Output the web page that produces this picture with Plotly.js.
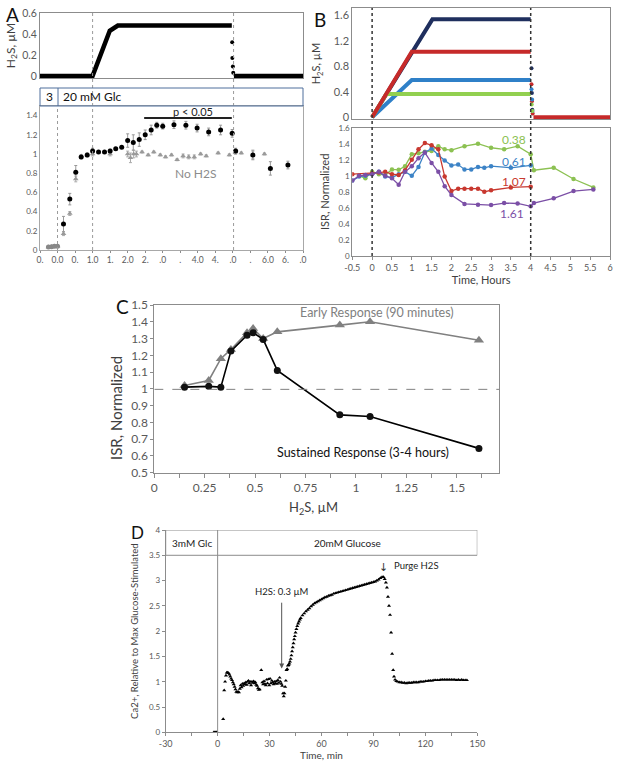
<!DOCTYPE html>
<html><head><meta charset="utf-8">
<script src="https://cdn.plot.ly/plotly-3.0.1.min.js"></script>
<style>html,body{margin:0;padding:0;background:#fff}#chart{width:617px;height:764px}</style>
</head><body><div id="chart"></div>
<script>
// ---------- Panel A (top): H2S trace ----------
const aTopRampT = [-0.5, 1.0, 1.49, 1.72, 4.97];
const aTopRampV = [0, 0, 0.43, 0.48, 0.48];
const aTopDropT = [4.98, 4.985, 5.0, 5.01];
const aTopDropV = [0.32, 0.17, 0.09, 0.03];
const aTopPostT = [5.03, 7.0];
const aTopPostV = [0, 0];
// ---------- Panel A (bottom): ISR ----------
const aTickVals = [-0.5,0,0.5,1,1.5,2,2.5,3,3.5,4,4.5,5,5.5,6,6.5,7];
const aTickText = ['0.','0.0','0.','1.0','1.','2.0','2.','.0','.','4.0','4.','.0','.','6.0','6.','.0'];
const aBlackT = [-0.26,-0.17,-0.09,0.0,0.17,0.35,0.52,0.675,0.846,1.0,1.17,1.34,1.5,1.66,1.83,2.0,2.16,2.33,2.5,2.67,2.83,3.0,3.32,3.66,3.98,4.31,4.65,4.98,5.08,5.57,6.07,6.57];
const aBlackV = [0.03,0.035,0.04,0.04,0.27,0.53,0.81,0.97,0.99,1.03,1.02,1.02,1.03,1.055,1.07,1.14,1.12,1.15,1.2,1.25,1.3,1.29,1.305,1.30,1.27,1.23,1.25,1.215,1.03,0.99,0.85,0.885];
const aBlackErr = [0.01,0.01,0.01,0.01,0.08,0.06,0.07,0.02,0.02,0.03,0.01,0.01,0.02,0.01,0.01,0.07,0.08,0.07,0.05,0.05,0.03,0.03,0.04,0.04,0.04,0.04,0.05,0.04,0.03,0.05,0.07,0.04];
const aGrayT = [-0.26,-0.17,-0.09,0.0,0.17,0.35,0.52,0.675,0.846,1.0,1.5,2.0,2.08,2.17,2.25,2.41,2.585,2.745,2.93,3.08,3.25,3.41,3.58,3.74,3.9,4.08,4.24,4.58,4.9,5.07,5.24,5.57,5.9];
const aGrayV = [0.03,0.035,0.04,0.04,0.17,0.38,0.74,0.98,0.99,1.0,1.0,1.0,0.96,1.0,1.0,1.02,0.99,1.02,0.99,0.97,0.99,0.94,0.98,0.97,0.97,1.0,0.98,1.01,0.99,1.02,1.01,0.99,1.0];
const aGrayErr = [0,0,0,0,0.02,0.02,0.03,0.01,0.01,0.02,0.02,0.03,0.05,0.04,0.03,0.01,0.01,0.01,0.01,0.01,0.01,0.01,0.02,0.02,0.02,0.01,0.01,0.01,0.01,0.02,0.01,0.04,0.01];
const aPBarT = [2.47, 4.97];
const aPBarV = [1.375, 1.375];
// ---------- Panel B (top): H2S profiles ----------
const bNavyT = [0, 1.52, 4.0];   const bNavyV = [0, 1.537, 1.537];
const bRedT = [0, 1.0, 4.0];     const bRedV = [0, 1.03, 1.03];
const bBlueT = [0, 1.0, 4.0];    const bBlueV = [0, 0.585, 0.585];
const bGreenT = [0, 0.36, 4.0];  const bGreenV = [0, 0.366, 0.366];
const bNavyDropT = [4.02,4.03,4.04]; const bNavyDropV = [0.77,0.38,0.12];
const bRedDropT = [4.02,4.03,4.05];  const bRedDropV = [0.52,0.25,0.06];
const bBlueDropT = [4.02,4.035,4.045]; const bBlueDropV = [0.44,0.28,0.1];
const bGreenDropT = [4.025,4.04];    const bGreenDropV = [0.2,0.1];
const bPostT = [4.07, 6.0]; const bPostV = [0, 0];
// ---------- Panel B (bottom): ISR ----------
const bXTickVals = [-0.5,0,0.5,1,1.5,2,2.5,3,3.5,4,4.5,5,5.5,6];
const bXTickText = ['-0.5','0','0.5','1','1.5','2','2.5','3','3.5','4','4.5','5','5.5','6'];
const isrGreenT = [-0.33,-0.17,0,0.17,0.33,0.5,0.67,0.83,1.0,1.17,1.33,1.5,1.67,1.83,2.0,2.33,2.67,3.0,3.33,3.67,4.0,4.08,4.58,5.08,5.58];
const isrGreenV = [1.0,0.97,1.05,1.02,1.01,1.08,1.075,1.12,1.27,1.28,1.3,1.31,1.37,1.33,1.32,1.37,1.4,1.35,1.33,1.37,1.27,1.07,1.10,0.96,0.855];
const isrBlueT = [-0.5,-0.33,-0.17,0,0.17,0.33,0.5,0.67,0.83,1.0,1.17,1.33,1.5,1.67,1.83,2.0,2.17,2.33,2.5,2.67,2.83,3.0,3.5,4.0];
const isrBlueV = [0.94,0.99,1.0,1.02,1.05,0.99,0.98,1.02,1.05,1.0,1.11,1.29,1.34,1.26,1.19,1.13,1.14,1.08,1.08,1.11,1.1,1.12,1.1,1.13];
const isrRedT = [-0.5,0,0.17,0.33,0.5,0.67,0.83,1.0,1.17,1.33,1.5,1.67,1.83,2.0,2.17,2.33,2.5,2.67,2.83,3.0,3.5,4.0];
const isrRedV = [1.02,1.03,1.04,1.05,1.02,1.01,1.07,1.2,1.33,1.41,1.38,1.33,0.99,0.81,0.84,0.84,0.84,0.84,0.8,0.82,0.855,0.865];
const isrPurpleT = [-0.5,-0.33,-0.17,0,0.17,0.33,0.5,0.67,0.83,1.0,1.17,1.33,1.5,1.67,1.83,2.0,2.33,2.67,3.0,3.33,3.67,4.0,4.08,4.58,5.08,5.58];
const isrPurpleV = [0.94,1.0,1.01,1.02,1.05,1.0,0.97,0.89,1.05,1.12,1.22,1.29,1.16,1.05,0.87,0.76,0.65,0.64,0.635,0.66,0.655,0.62,0.66,0.72,0.81,0.83];
// ---------- Panel C ----------
const cH2S = [0.15,0.27,0.33,0.38,0.46,0.49,0.54,0.61,0.92,1.07,1.61];
const cSustained = [1.01,1.015,1.01,1.225,1.32,1.335,1.295,1.11,0.845,0.835,0.645];
const cEarly = [1.02,1.05,1.18,1.235,1.335,1.36,1.30,1.34,1.38,1.40,1.29];
const cXTickVals = [0,0.25,0.5,0.75,1,1.25,1.5];
const cXTickText = ['0','0.25','0.5','0.75','1','1.25','1.5'];
const cXMinorVals = [0.125,0.375,0.625,0.875,1.125,1.375,1.625];
const cYTickVals = [0.5,0.6,0.7,0.8,0.9,1.0,1.1,1.2,1.3,1.4,1.5];
const cYTickText = ['0.5','0.6','0.7','0.8','0.9','1','1.1','1.2','1.3','1.4','1.5'];
// ---------- Panel D ----------
const dXTickVals = [-30,0,30,60,90,120,150];
const dXTickText = ['-30','0','30','60','90','120','150'];
const dXMinorVals = [-15,15,45,75,105,135];
const dYTickVals = [0,0.5,1,1.5,2,2.5,3,3.5,4];
const dYTickText = ['0','0.5','1','1.5','2','2.5','3','3.5','4'];
const dT = [-2.2,-1.7,-1.2,-0.7,-0.3,
 3.2,3.8,4.3,4.8,5.3,5.8,6.3,6.8,7.3,7.8,8.3,8.8,9.3,9.8,10.3,10.8,11.3,11.8,12.3,12.8,13.3,13.8,14.3,14.8,
 15.3,15.8,16.3,16.8,17.3,17.8,18.3,18.8,19.3,19.8,20.3,20.8,21.3,21.8,22.3,22.8,23.3,23.8,24.3,25.2,25.8,
 26.3,26.8,27.3,27.8,28.3,28.8,29.3,29.8,30.3,30.8,31.3,31.8,32.3,32.8,33.3,33.8,34.3,34.8,35.3,35.8,36.3,
 36.8,37.3,37.8,38.2,38.6,39.0,39.4,39.8,40.2,40.6,41.0,41.4,41.8,42.2,42.6,43.0,43.4,43.8,44.2,44.6,45,
 45.5,46,46.5,47,47.5,48,49,50,51,52,53,54,55,56,57,58,59,60,61,62,63,64,65,66,67,68,69,70,71,72,73,74,75,
 76,77,78,79,80,81,82,83,84,85,86,87,88,89,90,91,92,93,94,95,95.8,96.5,97.2,97.8,98.4,99.0,99.6,100.2,
 100.8,101.4,101.9,102.5,103.2,104,105,106,107,108,109,110,111,112,113,114,115,116,117,118,119,120,121,
 122,123,124,125,126,127,128,129,130,131,132,133,134,135,136,137,138,139,140,141,142,143,144];
const dCa = [0,0,0,0,0,
 0.26,0.83,1.0,1.12,1.18,1.18,1.17,1.14,1.1,1.06,1.03,0.99,0.95,0.9,0.85,0.8,0.79,0.8,0.79,0.86,0.93,0.89,0.96,0.92,
 0.97,0.95,0.99,0.94,1.0,1.02,0.97,1.0,0.93,1.0,0.98,1.01,0.97,0.99,0.94,0.92,0.87,0.84,0.85,1.23,0.99,
 0.95,1.01,0.96,0.93,1.04,0.97,1.05,0.93,1.06,0.97,1.02,0.99,0.95,1.0,0.97,1.01,0.96,1.03,0.98,1.08,1.0,
 0.96,0.92,0.77,0.71,0.77,0.9,1.02,1.23,1.25,1.32,1.33,1.36,1.4,1.45,1.52,1.6,1.68,1.76,1.84,1.9,1.97,
 2.04,2.1,2.15,2.19,2.23,2.26,2.31,2.35,2.39,2.42,2.45,2.49,2.52,2.55,2.57,2.59,2.61,2.63,2.65,2.67,2.68,2.7,2.71,2.72,2.74,2.75,2.76,2.77,2.78,2.79,2.8,2.81,2.82,
 2.83,2.84,2.85,2.86,2.87,2.88,2.89,2.9,2.91,2.92,2.93,2.94,2.95,2.96,2.97,2.98,3.0,3.02,3.05,3.07,3.07,3.03,2.96,2.86,2.68,2.5,2.32,1.97,
 1.55,1.23,1.1,1.04,1.01,1.0,0.99,0.99,0.98,0.98,0.97,0.98,0.98,0.98,0.99,0.99,0.99,0.99,1.0,1.0,1.0,1.01,1.01,
 1.02,1.02,1.02,1.03,1.03,1.03,1.03,1.04,1.04,1.04,1.04,1.04,1.04,1.04,1.04,1.04,1.03,1.04,1.03,1.04,1.03,1.03,1.03];

// ---------- helpers (positions only) ----------
const W = 617, H = 764;
const px = x => x / W;
const py = y => 1 - y / H;
const TICK = '#595959';
const TITLE = '#404040';
const FONT = 'Lato, "Open Sans", sans-serif';
const C_NAVY = '#1f2f5e', C_RED = '#c62a2a', C_BLUE = '#2f80c8', C_GREEN = '#92d050';
const I_GREEN = '#8cc152', I_BLUE = '#3c83c6', I_RED = '#c8382f', I_PURPLE = '#7b4fa6';

const traces = [];
// Panel A top
traces.push({x: aTopRampT, y: aTopRampV, xaxis:'x', yaxis:'y', mode:'lines', line:{color:'#000', width:4.5}});
traces.push({x: aTopDropT, y: aTopDropV, xaxis:'x', yaxis:'y', mode:'markers', marker:{color:'#000', size:4}});
traces.push({x: aTopPostT, y: aTopPostV, xaxis:'x', yaxis:'y', mode:'lines', line:{color:'#000', width:4.5}});
// Panel A bottom
traces.push({x: aGrayT, y: aGrayV, xaxis:'x2', yaxis:'y2', mode:'markers',
  marker:{symbol:'triangle-up', color:'#9a9a9a', size:5},
  error_y:{type:'data', array:aGrayErr, color:'#aaa', thickness:1, width:1.5}});
traces.push({x: aBlackT, y: aBlackV, xaxis:'x2', yaxis:'y2', mode:'markers',
  marker:{symbol:'circle', color: aBlackT.map(t => t <= 0 ? '#888' : '#000'), size:5},
  error_y:{type:'data', array:aBlackErr, color:'#999', thickness:1, width:1.5}});
traces.push({x: aPBarT, y: aPBarV, xaxis:'x2', yaxis:'y2', mode:'lines', line:{color:'#222', width:1.8}});
// Panel B top
traces.push({x: bNavyT, y: bNavyV, xaxis:'x3', yaxis:'y3', mode:'lines', line:{color:C_NAVY, width:4}});
traces.push({x: bBlueT, y: bBlueV, xaxis:'x3', yaxis:'y3', mode:'lines', line:{color:C_BLUE, width:4}});
traces.push({x: bGreenT, y: bGreenV, xaxis:'x3', yaxis:'y3', mode:'lines', line:{color:C_GREEN, width:4}});
traces.push({x: bRedT, y: bRedV, xaxis:'x3', yaxis:'y3', mode:'lines', line:{color:C_RED, width:4}});
traces.push({x: bNavyDropT, y: bNavyDropV, xaxis:'x3', yaxis:'y3', mode:'markers', marker:{color:C_NAVY, size:4}});
traces.push({x: bRedDropT, y: bRedDropV, xaxis:'x3', yaxis:'y3', mode:'markers', marker:{color:C_RED, size:4}});
traces.push({x: bBlueDropT, y: bBlueDropV, xaxis:'x3', yaxis:'y3', mode:'markers', marker:{color:C_BLUE, size:4}});
traces.push({x: bGreenDropT, y: bGreenDropV, xaxis:'x3', yaxis:'y3', mode:'markers', marker:{color:C_GREEN, size:4}});
traces.push({x: bPostT, y: bPostV, xaxis:'x3', yaxis:'y3', mode:'lines', line:{color:C_RED, width:4}});
// Panel B bottom
[[isrGreenT, isrGreenV, I_GREEN],[isrBlueT, isrBlueV, I_BLUE],[isrRedT, isrRedV, I_RED],[isrPurpleT, isrPurpleV, I_PURPLE]].forEach(s => {
  traces.push({x:s[0], y:s[1], xaxis:'x4', yaxis:'y4', mode:'lines+markers', line:{color:s[2], width:1.3}, marker:{color:s[2], size:4.5}});
});
// Panel C
traces.push({x: cH2S, y: cEarly, xaxis:'x5', yaxis:'y5', mode:'lines+markers', line:{color:'#808080', width:1.6}, marker:{symbol:'triangle-up', color:'#808080', size:9}});
traces.push({x: cH2S, y: cSustained, xaxis:'x5', yaxis:'y5', mode:'lines+markers', line:{color:'#000', width:1.6}, marker:{symbol:'circle', color:'#111', size:7}});
// Panel D
traces.push({x: dT, y: dCa, xaxis:'x6', yaxis:'y6', mode:'markers', marker:{symbol:'triangle-up', color:'#000', size:3.6}});

function axBase(extra) {
  return Object.assign({showgrid:false, zeroline:false, showline:true, linecolor:'#8c8c8c', linewidth:1,
    tickfont:{family:FONT, color:TICK, size:9}, tickcolor:'#8c8c8c', fixedrange:true}, extra);
}
function ttl(text, size, standoff) {
  return {text:text, font:{family:FONT, size:size, color:TITLE}, standoff:standoff};
}

const shapes = [];
// A dotted lines
[1.0, 5.02].forEach(t => shapes.push({type:'line', xref:'x2', yref:'paper', x0:t, x1:t, y0:py(250), y1:py(13), line:{color:'#9a9a9a', width:1, dash:'dot'}}));
shapes.push({type:'line', xref:'x2', yref:'paper', x0:0, x1:0, y0:py(250), y1:py(106), line:{color:'#9a9a9a', width:1, dash:'dot'}});
// A header box
shapes.push({type:'rect', xref:'paper', yref:'paper', x0:px(40), x1:px(303), y0:py(106), y1:py(88), line:{color:'#4f6f9c', width:1}, fillcolor:'rgba(0,0,0,0)'});
shapes.push({type:'line', xref:'paper', yref:'paper', x0:px(58), x1:px(58), y0:py(106), y1:py(88), line:{color:'#4f6f9c', width:1}});
// B dotted lines
[0, 4].forEach(t => shapes.push({type:'line', xref:'x4', yref:'paper', x0:t, x1:t, y0:py(256), y1:py(8), line:{color:'#333', width:1.5, dash:'dot'}}));
// C dashed line at 1
shapes.push({type:'line', xref:'x5', yref:'y5', x0:0, x1:1.711, y0:0.997, y1:0.997, line:{color:'#808080', width:1, dash:'dash'}});
// D header and vertical line
shapes.push({type:'rect', xref:'x6', yref:'y6', x0:-30, x1:150, y0:3.5, y1:4, line:{color:'#8c8c8c', width:1}, fillcolor:'rgba(0,0,0,0)'});
shapes.push({type:'line', xref:'x6', yref:'y6', x0:0, x1:0, y0:0, y1:4, line:{color:'#8c8c8c', width:1}});

function pann(text, x, y, size, opts) {
  return Object.assign({text:text, xref:'paper', yref:'paper', x:px(x), y:py(y), showarrow:false,
    font:{family:FONT, size:size, color:'#222'}, xanchor:'center', yanchor:'middle'}, opts || {});
}
const annotations = [
  pann('A', 12, 14, 19, {font:{family:FONT, size:19, color:'#111'}}),
  pann('B', 320, 20, 19, {font:{family:FONT, size:19, color:'#111'}}),
  pann('C', 122, 306, 19, {font:{family:FONT, size:19, color:'#111'}}),
  pann('D', 137, 532, 17, {font:{family:FONT, size:17, color:'#111'}}),
  pann('3', 49, 97, 12, {font:{family:FONT, size:12, color:'#111'}}),
  pann('20 mM Glc', 61, 97, 12, {xanchor:'left', font:{family:FONT, size:12, color:'#111'}}),
  {text:'p < 0.05', xref:'x2', yref:'y2', x:3.85, y:1.445, showarrow:false, font:{family:FONT, size:11, color:'#222'}},
  {text:'No H2S', xref:'x2', yref:'y2', x:3.93, y:0.8, showarrow:false, font:{family:FONT, size:12, color:'#8c8c8c'}},
  {text:'0.38', xref:'x4', yref:'y4', x:3.57, y:1.45, showarrow:false, font:{family:FONT, size:12, color:I_GREEN}},
  {text:'0.61', xref:'x4', yref:'y4', x:3.57, y:1.18, showarrow:false, font:{family:FONT, size:12, color:I_BLUE}},
  {text:'1.07', xref:'x4', yref:'y4', x:3.57, y:0.93, showarrow:false, font:{family:FONT, size:12, color:I_RED}},
  {text:'1.61', xref:'x4', yref:'y4', x:3.53, y:0.525, showarrow:false, font:{family:FONT, size:12, color:I_PURPLE}},
  pann('ISR, Normalized', 116, 408, 15, {textangle:-90, font:{family:FONT, size:15, color:TITLE}}),
  pann('H<sub>2</sub>S, µM', 313, 508, 13, {font:{family:FONT, size:13, color:TITLE}}),
  {text:'Early Response (90 minutes)', xref:'x5', yref:'y5', x:1.103, y:1.454, showarrow:false, font:{family:FONT, size:12.5, color:'#808080'}},
  {text:'Sustained Response (3-4 hours)', xref:'x5', yref:'y5', x:1.037, y:0.622, showarrow:false, font:{family:FONT, size:12.5, color:'#111'}},
  {text:'3mM Glc', xref:'x6', yref:'y6', x:-15, y:3.75, showarrow:false, font:{family:FONT, size:10, color:'#222'}},
  {text:'20mM Glucose', xref:'x6', yref:'y6', x:75, y:3.75, showarrow:false, font:{family:FONT, size:10, color:'#222'}},
  {text:'H2S: 0.3 µM', xref:'x6', yref:'y6', x:37, y:1.26, axref:'x6', ayref:'y6', ax:37, ay:2.78,
   showarrow:true, arrowhead:2, arrowsize:1, arrowwidth:1, arrowcolor:'#555', startstandoff:4,
   font:{family:FONT, size:9.5, color:'#222'}},
  {text:'↓', xref:'x6', yref:'y6', x:96, y:3.25, showarrow:false, font:{family:'DejaVu Sans', size:11, color:'#333'}},
  {text:'Purge H2S', xref:'x6', yref:'y6', x:101, y:3.3, xanchor:'left', showarrow:false, font:{family:FONT, size:9.5, color:'#222'}}
];

const layout = {
  width: W, height: H, margin:{l:0, r:0, t:0, b:0}, showlegend:false,
  paper_bgcolor:'#fff', plot_bgcolor:'rgba(0,0,0,0)', font:{family:FONT},
  xaxis: axBase({domain:[px(40), px(303)], range:[-0.5, 7], anchor:'y', showticklabels:false, ticks:'', mirror:true}),
  yaxis: axBase({domain:[py(78), py(13)], range:[-0.02, 0.6], anchor:'x', tickvals:[0,0.2,0.4,0.6], ticktext:['0','0.2','0.4','0.6'], ticks:'', mirror:true, tickfont:{family:FONT, color:TICK, size:10.5},
    title: ttl('H<sub>2</sub>S, µM', 12, 4)}),
  xaxis2: axBase({domain:[px(40), px(303)], range:[-0.5, 7], anchor:'y2', tickvals:aTickVals, ticktext:aTickText, ticks:'outside', ticklen:2, mirror:true, linecolor:'#a8a8a8', tickfont:{family:FONT, color:TICK, size:8.5}}),
  yaxis2: axBase({domain:[py(250), py(106)], range:[0, 1.5], anchor:'x2', tickvals:[0,0.2,0.4,0.6,0.8,1,1.2,1.4], ticktext:['0','0.2','0.4','0.6','0.8','1','1.2','1.4'], ticks:'', mirror:true, linecolor:'#a8a8a8', tickfont:{family:FONT, color:TICK, size:8}}),
  xaxis3: axBase({domain:[px(352.3), px(610)], range:[-0.5, 6], anchor:'y3', showticklabels:false, ticks:'', mirror:true}),
  yaxis3: axBase({domain:[py(119.2), py(8)], range:[-0.03, 1.715], anchor:'x3', tickvals:[0,0.4,0.8,1.2,1.6], ticktext:['0','0.4','0.8','1.2','1.6'], ticks:'', mirror:true, tickfont:{family:FONT, color:TICK, size:11},
    title: ttl('H<sub>2</sub>S, µM', 11, 10)}),
  xaxis4: axBase({domain:[px(352.3), px(610)], range:[-0.5, 6], anchor:'y4', tickvals:bXTickVals, ticktext:bXTickText, ticks:'outside', ticklen:3, mirror:true, tickfont:{family:FONT, color:TICK, size:9},
    title: ttl('Time, Hours', 11, 2)}),
  yaxis4: axBase({domain:[py(256), py(127.7)], range:[0, 1.6], anchor:'x4', tickvals:[0,0.2,0.4,0.6,0.8,1,1.2,1.4,1.6], ticktext:['0','0.2','0.4','0.6','0.8','1','1.2','1.4','1.6'], ticks:'', mirror:true, tickfont:{family:FONT, color:TICK, size:8},
    title: ttl('ISR, Normalized', 11, 6)}),
  xaxis5: axBase({domain:[px(154.3), px(499.3)], range:[0, 1.711], anchor:'y5', tickvals:cXTickVals, ticktext:cXTickText, ticks:'outside', ticklen:4, mirror:true, tickfont:{family:FONT, color:TICK, size:12},
    minor:{tickvals:cXMinorVals, ticks:'outside', ticklen:4, tickcolor:'#8c8c8c'}}),
  yaxis5: axBase({domain:[py(472.7), py(305)], range:[0.5, 1.5], anchor:'x5', tickvals:cYTickVals, ticktext:cYTickText, ticks:'outside', ticklen:3, mirror:true, tickfont:{family:FONT, color:TICK, size:12}}),
  xaxis6: axBase({domain:[px(165.7), px(477.3)], range:[-30, 150], anchor:'y6', tickvals:dXTickVals, ticktext:dXTickText, ticks:'outside', ticklen:3, tickfont:{family:FONT, color:TICK, size:9},
    minor:{tickvals:dXMinorVals, ticks:'outside', ticklen:3, tickcolor:'#8c8c8c'},
    title: ttl('Time, min', 10, 3)}),
  yaxis6: axBase({domain:[py(732.3), py(530)], range:[0, 4], anchor:'x6', tickvals:dYTickVals, ticktext:dYTickText, ticks:'outside', ticklen:3, tickfont:{family:FONT, color:TICK, size:8},
    title: ttl('Ca2+, Relative to Max Glucose-Stimulated', 9.5, 8)}),
  shapes: shapes,
  annotations: annotations
};
Plotly.newPlot('chart', traces, layout, {staticPlot:true, displayModeBar:false});
</script></body></html>
